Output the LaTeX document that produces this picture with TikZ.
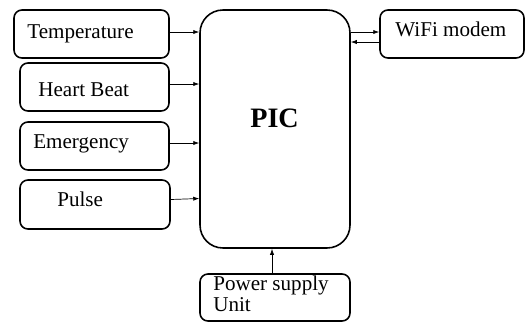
\documentclass[tikz,border=0pt]{standalone}
\usepackage{fontspec}
\setmainfont{Liberation Serif}
\usetikzlibrary{arrows.meta}

\tikzset{
  blk/.style={draw,line width=0.9pt,rounded corners=4.5pt,minimum width=3cm,minimum height=0.96cm,inner sep=0pt},
  txt/.style={anchor=base west,inner sep=0pt,font=\fontsize{12}{10.2}\selectfont},
  con/.style={line width=0.4pt,-{Latex[length=3.4pt,width=2.4pt]}}
}

\begin{document}
\begin{tikzpicture}[x=0.02cm,y=-0.02cm]
      \useasboundingbox (0,0) rectangle (526,322);
      \node[blk,minimum width=3.1cm] (temp) at (91.5,34) {};
      \node[blk,minimum width=2.98cm] (heart) at (94.5,87) {};
      \node[blk,minimum width=2.98cm] (emerg) at (94.5,146) {};
      \node[blk,minimum width=3cm,minimum height=0.98cm] (pulse) at (95,204.5) {};
      \node[blk,rounded corners=13pt,minimum width=3cm,minimum height=4.76cm] (pic) at (275,129) {};
      \node[blk,minimum width=2.88cm] (wifi) at (452,34) {};
      \node[blk,minimum height=0.94cm] (power) at (275,297.5) {};
      \node[txt] (tempT) at (27,38) {Temperature};
      \node[txt] (heartT) at (38,96) {Heart Beat};
      \node[txt] (emergT) at (33,148) {Emergency};
      \node[txt] (pulseT) at (57,206.5) {Pulse};
      \node[txt] (wifiT) at (395,36) {WiFi modem};
      \node[txt,font=\fontsize{16}{19}\selectfont\bfseries] (picT) at (250,127) {PIC};
      \node[txt,align=left] (powerT) at (213,311) {Power supply\\Unit};
      \draw[con] ([yshift=0.04cm]temp.east) -- ([yshift=0.04cm]temp.east -| pic.west);
      \draw[con] ([yshift=0.06cm]heart.east) -- ([yshift=0.06cm]heart.east -| pic.west);
      \draw[con] ([yshift=0.06cm]emerg.east) -- ([yshift=0.06cm]emerg.east -| pic.west);
      \draw[con] ([yshift=0.1cm]pulse.east) -- ([yshift=0.12cm]pulse.east -| pic.west);
      \draw[con] ([yshift=0.04cm]wifi.west -| pic.east) -- ([yshift=0.04cm]wifi.west);
      \draw[con] ([yshift=-0.16cm]wifi.west) -- ([yshift=-0.16cm]wifi.west -| pic.east);
      \draw[con] ([xshift=-0.06cm]power.north) -- ([xshift=-0.06cm]power.north |- pic.south);
    \end{tikzpicture}
\end{document}
